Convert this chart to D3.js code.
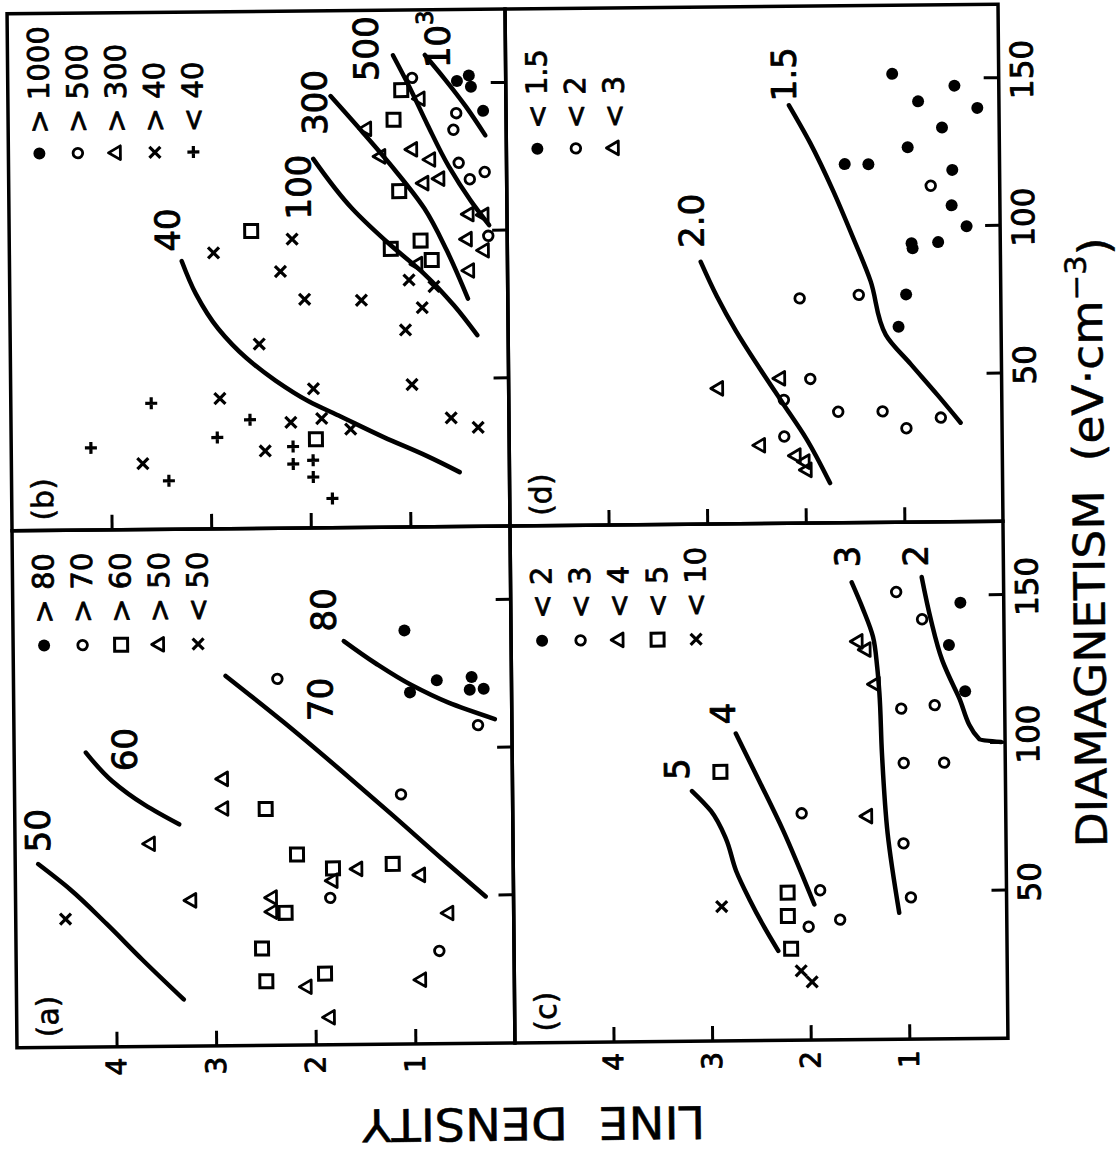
<!DOCTYPE html>
<html><head><meta charset="utf-8">
<script src="https://cdn.jsdelivr.net/npm/d3@7"></script>
<style>body{margin:0;background:#fff}svg{display:block}</style>
</head><body>
<svg id="c" width="1118" height="1151"></svg>
<script>
// ---------- DATA  (points are [diamagnetism eV·cm^-3, line density]) ----------
const dmTicks = [50, 100, 150];
const ldTicks = [1, 2, 3, 4];
const dmDomain = [0, 175];
const ldDomain = [0, 5];

// panel (a)
const aDots = [[140,1.07],[119,1.02],[123,0.75],[124,0.40],[119.7,0.42],[120,0.28]];
const aCircles = [[124,2.35],[84.5,1.12],[107.7,0.34],[49.7,1.84],[31.4,0.75]];
const aSquares = [[80,2.48],[64.5,2.17],[59.7,1.81],[61,1.21],[44.8,2.29],[32.8,2.53],[21.7,2.49],[24.1,1.90]];
const aTriangles = [[90.3,2.90],[80.3,2.90],[68.6,3.64],[49.3,3.23],[50,2.42],[45.2,2.42],[55.5,1.81],[59.4,1.56],[57.2,0.93],[44.2,0.65],[21.7,0.93],[19.7,2.08],[9.3,1.85]];
const aCrosses = [[43.4,4.50]];
const aCurve50 = [[62.1,4.77],[53.4,4.45],[41.7,4.09],[29.3,3.73],[15.8,3.32]];
const aCurve60 = [[99.7,4.28],[90,4.02],[81.7,3.69],[75.1,3.35]];
const aCurve70 = [[125.2,2.87],[109.3,2.29],[92.8,1.72],[77.6,1.21],[62.4,0.71],[49.7,0.28]];
const aCurve80 = [[136.6,1.68],[128.9,1.36],[121.4,1.00],[115.5,0.64],[109.7,0.17]];
const aCurveLabels = [["50",73.4,4.77],["60",100.6,3.89],["70",116.9,1.92],["80",147.2,1.88]];
const aLegend = [["dot","> 80"],["circle","> 70"],["square","> 60"],["triangle","> 50"],["cross","< 50"]];

// panel (b)
const bDots = [[150.8,0.49],[152.6,0.37],[148.8,0.35],[140.6,0.23]];
const bCircles = [[152,0.94],[139.9,0.50],[134.3,0.53],[123.1,0.48],[117.5,0.37],[119.9,0.22],[98.3,0.19]];
const bTriangles = [[144.9,0.86],[134.9,1.40],[125.5,1.26],[127.8,0.94],[124.3,0.76],[117.8,0.67],[116.3,0.83],[105.7,0.38],[105.4,0.23],[97.2,0.40],[93.4,0.23],[88.9,0.90],[86.6,0.38]];
const bSquares = [[147.9,1.05],[137.9,1.13],[113.7,1.08],[100.7,2.57],[94.2,1.17],[96.9,0.87],[90.3,0.76],[30,1.94]];
const bCrosses = [[93.4,2.95],[97.8,2.16],[86.9,2.28],[77.4,2.04],[76.9,1.47],[62.4,2.50],[83.6,0.99],[74.2,0.86],[66.7,1.03],[81.3,0.74],[48.2,0.97],[47.1,1.96],[44.1,2.90],[35.8,2.19],[37,1.88],[33.3,1.59],[26.2,2.45],[22.3,3.68],[36.8,0.58],[33.5,0.31]];
const bPluses = [[42.7,3.59],[27.8,4.20],[30.9,2.93],[36.8,2.60],[27.6,2.17],[21.7,2.17],[22.9,1.97],[17.2,1.97],[16.4,3.42],[9.9,1.78]];
const bCurve40 = [[90.7,3.27],[79.5,3.13],[67.7,2.91],[57.7,2.63],[50,2.34],[42.9,2.01],[37.6,1.69],[30.5,1.26],[24,0.83],[18.4,0.50]];
const bCurve100 = [[124.9,1.94],[107.8,1.55],[96,1.19],[85.4,0.83],[74.8,0.54],[64.7,0.31]];
const bCurve300 = [[146.1,1.76],[133.7,1.44],[120.8,1.12],[107.8,0.83],[93.6,0.61],[77.1,0.40]];
const bCurve500 = [[159.7,1.13],[149.1,0.97],[136.1,0.79],[121.9,0.58],[110.1,0.36],[101.9,0.18]];
const bCurve1000 = [[159.7,0.81],[151.4,0.61],[142,0.40],[132.3,0.21]];
const bCurveLabels = [["40",101.3,3.41],["100",115.4,2.09],["300",144,1.92],["500",162,1.40],["10^3",165,0.68]];
const bLegend = [["dot","> 1000"],["circle","> 500"],["triangle","> 300"],["cross","> 40"],["plus","< 40"]];

// panel (c)
const cDots = [[147.6,0.44],[133.3,0.56],[117.6,0.40]];
const cCircles = [[151.4,1.09],[142.1,0.83],[111.9,1.05],[113,0.71],[93.5,1.03],[93.5,0.62],[76.8,2.07],[66.3,1.04],[48,0.97],[50.7,1.89],[38.4,2.01],[40.7,1.69]];
const cTriangles = [[134.8,1.48],[132,1.40],[120.3,1.31],[75.6,1.40]];
const cSquares = [[91.1,2.89],[50,2.22],[42.1,2.22],[31,2.19]];
const cCrosses = [[45.5,2.89],[23.5,2.09],[19.7,1.98]];
const cCurve5 = [[84.7,3.18],[77.9,2.99],[68.4,2.84],[57.5,2.74],[48,2.61],[38.4,2.46],[30.3,2.32]];
const cCurve4 = [[104,2.73],[87.4,2.49],[71.1,2.26],[53.4,2.04],[45.9,1.95]];
const cCurve3 = [[154.8,1.54],[145.9,1.43],[136.4,1.33],[126.2,1.29],[117.3,1.27],[96.9,1.25],[69.7,1.20],[42.8,1.09]];
const cCurve2 = [[156.4,0.83],[141.8,0.74],[128.2,0.63],[116,0.47],[101.3,0.26],[100.3,0.04]];
const cCurveLabels = [["5",92.2,3.33],["4",110.8,2.86],["3",163.6,1.58],["2",163.6,0.89]];
const cLegend = [["dot","< 2"],["circle","< 3"],["triangle","< 4"],["square","< 5"],["cross","< 10"]];

// panel (d)
const dDots = [[151.8,1.08],[147.6,0.45],[142.4,0.82],[140,0.22],[133.5,0.58],[126.9,0.93],[121.4,1.57],[121.3,1.33],[119.1,0.48],[107.1,0.49],[100,0.34],[94.4,0.90],[92.7,0.89],[94.7,0.63],[77.1,0.96],[66.2,1.04]];
const dCircles = [[113.8,0.70],[76.1,2.04],[77.1,1.44],[48.8,1.94],[41.8,2.21],[37.6,1.66],[37.6,1.21],[31.8,0.97],[35.3,0.62],[29.4,2.21]];
const dTriangles = [[45.9,2.87],[49.1,2.24],[26.5,2.45],[22.9,2.09],[20.8,2.00],[18,1.98]];
const dCurve20 = [[88.8,3.04],[77.1,2.88],[65.3,2.69],[52.4,2.45],[40.6,2.22],[28.8,1.99],[13.5,1.75]];
const dCurve15 = [[141.5,2.13],[128.8,1.92],[112.4,1.69],[97.1,1.50],[81.8,1.32],[63.5,1.17],[53.5,0.92],[42.9,0.65],[33.5,0.42]];
const dCurveLabels = [["2.0",102.7,3.13],["1.5",152,2.18]];
const dLegend = [["dot","< 1.5"],["circle","< 2"],["triangle","< 3"]];

const xTitle = "DIAMAGNETISM";
const xUnit = "(eV·cm";
const xUnitExp = "−3";
const yTitle = "LINE DENSITY";

// ---------- LAYOUT ----------
const FONT = "'DejaVu Sans', 'Liberation Sans', sans-serif";
const svg = d3.select('#c');
// the figure is drawn in its own upright frame, then turned a quarter turn (as in the scan)
const root = svg.append('g')
  .attr('transform', 'rotate(-0.55,510,527) translate(0,1151) rotate(-90)');

const X0 = 108, XM = 625, X1 = 1142, Y0 = 12, YM = 510, Y1 = 1003;

const panels = [
  {id:'a', x0:X0, x1:XM, y0:Y0, y1:YM, xl:false, yl:true, legOff:[115,93],
   dots:aDots, circles:aCircles, squares:aSquares, triangles:aTriangles, crosses:aCrosses, pluses:[],
   curves:[aCurve50,aCurve60,aCurve70,aCurve80], labels:aCurveLabels, legend:aLegend},
  {id:'b', x0:XM, x1:X1, y0:Y0, y1:YM, xl:false, yl:false, legOff:[140,120],
   dots:bDots, circles:bCircles, squares:bSquares, triangles:bTriangles, crosses:bCrosses, pluses:bPluses,
   curves:[bCurve40,bCurve100,bCurve300,bCurve500,bCurve1000], labels:bCurveLabels, legend:bLegend},
  {id:'c', x0:X0, x1:XM, y0:YM, y1:Y1, xl:true, yl:true, legOff:[115,93],
   dots:cDots, circles:cCircles, squares:cSquares, triangles:cTriangles, crosses:cCrosses, pluses:[],
   curves:[cCurve5,cCurve4,cCurve3,cCurve2], labels:cCurveLabels, legend:cLegend},
  {id:'d', x0:XM, x1:X1, y0:YM, y1:Y1, xl:true, yl:false, legOff:[140,120],
   dots:dDots, circles:dCircles, squares:[], triangles:dTriangles, crosses:[], pluses:[],
   curves:[dCurve20,dCurve15], labels:dCurveLabels, legend:dLegend}
];

function drawMarker(g, type) {
  if (type === 'dot') g.append('circle').attr('r', 6).attr('fill', '#000');
  else if (type === 'circle') g.append('circle').attr('r', 4.8).attr('fill', 'none').attr('stroke', '#000').attr('stroke-width', 2.8);
  else if (type === 'square') g.append('rect').attr('x', -6.5).attr('y', -6.5).attr('width', 13).attr('height', 13)
      .attr('fill', 'none').attr('stroke', '#000').attr('stroke-width', 3);
  else if (type === 'triangle') g.append('path').attr('d', d3.symbol().type(d3.symbolTriangle).size(82)())
      .attr('fill', 'none').attr('stroke', '#000').attr('stroke-width', 2.8).attr('stroke-linejoin', 'round');
  else if (type === 'cross') g.append('path').attr('d', 'M-5.5,-5.5L5.5,5.5M-5.5,5.5L5.5,-5.5')
      .attr('stroke', '#000').attr('stroke-width', 3.2);
  else if (type === 'plus') g.append('path').attr('d', 'M-6,0H6M0,-6V6')
      .attr('stroke', '#000').attr('stroke-width', 3.2);
}

function heavy(sel, w) { return sel.attr('stroke', '#000').attr('stroke-width', w).attr('stroke-linejoin', 'round'); }

panels.forEach(p => {
  const xs = d3.scaleLinear().domain(dmDomain).range([p.x0, p.x1]);
  const ys = d3.scaleLinear().domain(ldDomain).range([p.y1, p.y0]);
  const g = root.append('g').attr('class', 'panel-' + p.id);

  // axes
  const ax = g.append('g').attr('transform', `translate(0,${p.y1})`)
    .call(d3.axisBottom(xs).tickValues(dmTicks).tickSizeInner(-15).tickSizeOuter(0).tickPadding(12)
      .tickFormat(p.xl ? d3.format('d') : () => ''));
  ax.select('.domain').remove();
  ax.attr('font-family', FONT).attr('font-size', 31);
  ax.selectAll('line').attr('stroke-width', 3);
  heavy(ax.selectAll('text').attr('dx', 8), 0.9);

  const ay = g.append('g').attr('transform', `translate(${p.x0},0)`)
    .call(d3.axisLeft(ys).tickValues(ldTicks).tickSizeInner(-15).tickSizeOuter(0).tickPadding(11)
      .tickFormat(p.yl ? d3.format('d') : () => ''));
  ay.select('.domain').remove();
  ay.attr('font-family', FONT).attr('font-size', 28);
  ay.selectAll('line').attr('stroke-width', 3);
  heavy(ay.selectAll('text'), 0.9);

  // frame
  g.append('rect').attr('x', p.x0).attr('y', p.y0).attr('width', p.x1 - p.x0).attr('height', p.y1 - p.y0)
    .attr('fill', 'none').attr('stroke', '#000').attr('stroke-width', 3.5);

  // curves (each is a function of diamagnetism)
  const line = d3.line().x(d => xs(d[0])).y(d => ys(d[1])).curve(d3.curveMonotoneX);
  g.selectAll('path.curve').data(p.curves.map(c => c.slice().sort((u, v) => u[0] - v[0])))
    .join('path').attr('class', 'curve')
    .attr('d', line).attr('fill', 'none').attr('stroke', '#000').attr('stroke-width', 4.5)
    .attr('stroke-linecap', 'round').attr('stroke-linejoin', 'round');

  // curve labels
  p.labels.forEach(([t, dm, ld]) => {
    const tx = g.append('text').attr('x', xs(dm)).attr('y', ys(ld))
      .attr('text-anchor', 'middle').attr('dominant-baseline', 'central')
      .attr('font-family', FONT).attr('font-size', 34);
    heavy(tx, 0.9);
    if (t.includes('^')) {
      const [b, e] = t.split('^');
      tx.append('tspan').text(b);
      tx.append('tspan').attr('dy', '-0.55em').attr('font-size', 23).text(e);
    } else tx.text(t);
  });

  // markers
  const sets = [['dot', p.dots], ['circle', p.circles], ['square', p.squares],
                ['triangle', p.triangles], ['cross', p.crosses], ['plus', p.pluses]];
  sets.forEach(([type, arr]) => {
    arr.forEach(d => {
      const m = g.append('g').attr('transform', `translate(${xs(d[0])},${ys(d[1])})`);
      drawMarker(m, type);
    });
  });

  // legend
  p.legend.forEach(([type, txt], i) => {
    const yy = p.y0 + 31 + 38.5 * i;
    const m = g.append('g').attr('transform', `translate(${p.x1 - p.legOff[0]},${yy})`);
    drawMarker(m, type);
    heavy(g.append('text').attr('x', p.x1 - p.legOff[1]).attr('y', yy)
      .attr('dominant-baseline', 'central').attr('font-family', FONT).attr('font-size', 29)
      .text(txt.replace(' ', '\u00A0')), 0.8);
  });

  // panel letter
  heavy(g.append('text').attr('x', p.x0 + 31).attr('y', p.y0 + 31)
    .attr('text-anchor', 'middle').attr('dominant-baseline', 'central')
    .attr('font-family', FONT).attr('font-size', 30).text('(' + p.id + ')'), 0.6);
});

// axis titles
const xt = root.append('text').attr('x', 603).attr('y', 1104)
  .attr('text-anchor', 'middle')
  .attr('font-family', FONT).attr('font-size', 43)
  .attr('textLength', 610).attr('lengthAdjust', 'spacingAndGlyphs');
heavy(xt, 0.5);
xt.append('tspan').text(xTitle + '\u00A0\u00A0' + xUnit);
xt.append('tspan').attr('dy', '-0.55em').attr('font-size', 29).text(xUnitExp);
xt.append('tspan').attr('dy', '0.55em').text(')');

heavy(root.append('text').attr('transform', 'translate(43,528) rotate(-90)')
  .attr('text-anchor', 'middle')
  .attr('font-family', FONT).attr('font-size', 45)
  .attr('textLength', 343).attr('lengthAdjust', 'spacingAndGlyphs')
  .text(yTitle.replace(' ', '\u00A0\u00A0')), 0.5);
</script>
</body></html>
